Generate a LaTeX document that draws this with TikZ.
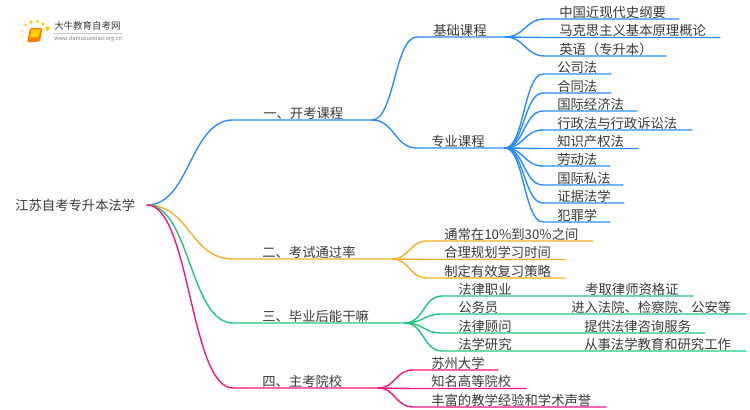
\documentclass[tikz,border=0pt]{standalone}
\usepackage{fontspec}
\setmainfont{Noto Sans CJK SC}
\usetikzlibrary{calc}
\definecolor{cblue}{HTML}{2A8CFF}
\definecolor{corange}{HTML}{F7B026}
\definecolor{cgreen}{HTML}{1FC77E}
\definecolor{cpink}{HTML}{F7147F}
\definecolor{ctext}{HTML}{3A3A3A}
\tikzset{
  x=0.75pt,y=-0.75pt,
  lbl/.style={anchor=west,inner sep=0pt,text=ctext,font=\fontsize{10pt}{12pt}\selectfont},
  link/.style={line width=1.05pt,line cap=round},
  logodot/.style={fill=#1,draw=none},
}
% \leaf{parent}{name}{startx}{endx}{liney}{textx}{text}{colour}
\newcommand{\leaf}[8]{%
  \coordinate (#2s) at (#3,#5);
  \coordinate (#2e) at (#4,#5);
  \node[lbl] (#2) at (#6,#5-7) {#7};
  \draw[link,#8] (#1) let \p1=(#1),\p2=(#2s),\n1={0.5*(\x2-\x1)} in
     .. controls +(\n1,0) and +(-\n1,0) .. (#2s) -- (#2e);
}
\begin{document}
\begin{tikzpicture}
\useasboundingbox (0,0) rectangle (750,410);
% logo
\fill[logodot=yellow!70!orange] (31,22) circle (1.9);
\fill[logodot=yellow!70!orange] (37.5,21.5) circle (1.7);
\fill[logodot=yellow!70!orange] (43,24) circle (1.8);
\fill[logodot=yellow!70!orange] (47.5,28.5) circle (2.3);
\fill[logodot=yellow!50!orange!70] (25.5,25) circle (1.5);
\fill[logodot=yellow!50!orange!50] (22,30.5) circle (1.3);
\fill[logodot=yellow!50!orange!40] (21.5,36.5) circle (1.1);
\fill[logodot=yellow!50!orange!30] (23.5,42.5) circle (1);
\fill[orange,rounded corners=1pt] (30,28) -- (42.5,28) -- (40,41.5) -- (27,42.5) -- cycle;
\fill[yellow!70!orange] (31.5,29.5) -- (40.5,29.5) -- (38.5,37) -- (30,37.5) -- cycle;
\node[anchor=west,inner sep=0pt,text=ctext,font=\fontsize{7.1pt}{8pt}\selectfont] (brand) at (54,26) {大牛教育自考网};
\node[anchor=west,inner sep=0pt,text=gray,font=\fontsize{4.2pt}{5pt}\selectfont] (url) at (54,38.5) {www.daniuxuexiao.org.cn};
\draw[gray!40,line width=0.3pt] (54,33) -- (122,33);
% root
\node[lbl] (root) at (15,205) {江苏自考专升本法学};
\coordinate (r) at (147,205);
% level 1
\leaf{r}{a}{233}{372}{120}{263}{一、开考课程}{cblue}
\leaf{r}{b}{233}{392}{259}{262}{二、考试通过率}{corange}
\leaf{r}{c}{233}{405}{323}{262}{三、毕业后能干嘛}{cgreen}
\leaf{r}{d}{233}{378}{388}{262}{四、主考院校}{cpink}
% level 2
\leaf{ae}{a1}{417}{505}{37}{433}{基础课程}{cblue}
\leaf{ae}{a2}{417}{505}{148}{431}{专业课程}{cblue}
% level 3 base
\leaf{a1e}{a11}{545}{679}{19}{559}{中国近现代史纲要}{cblue}
\leaf{a1e}{a12}{545}{720}{37.5}{559}{马克思主义基本原理概论}{cblue}
\leaf{a1e}{a13}{545}{666}{56}{559}{英语（专升本）}{cblue}
% level 3 major
\leaf{a2e}{a21}{543}{611}{74}{557}{公司法}{cblue}
\leaf{a2e}{a22}{543}{611}{93}{557}{合同法}{cblue}
\leaf{a2e}{a23}{543}{637}{111}{557}{国际经济法}{cblue}
\leaf{a2e}{a24}{543}{692}{130}{557}{行政法与行政诉讼法}{cblue}
\leaf{a2e}{a25}{543}{638}{148.5}{557}{知识产权法}{cblue}
\leaf{a2e}{a26}{543}{610}{166}{557}{劳动法}{cblue}
\leaf{a2e}{a27}{543}{623}{185}{557}{国际私法}{cblue}
\leaf{a2e}{a28}{543}{624}{203}{557}{证据法学}{cblue}
\leaf{a2e}{a29}{543}{610}{222}{557}{犯罪学}{cblue}
% orange
\leaf{be}{b1}{427}{593}{241}{444}{通常在10\%到30\%之间}{corange}
\leaf{be}{b2}{427}{565}{259.5}{444}{合理规划学习时间}{corange}
\leaf{be}{b3}{427}{565}{278}{444}{制定有效复习策略}{corange}
% green
\leaf{ce}{c1}{442}{693}{296}{458}{法律职业}{cgreen}
\leaf{ce}{c2}{442}{746}{314}{458}{公务员}{cgreen}
\leaf{ce}{c3}{442}{705}{333}{458}{法律顾问}{cgreen}
\leaf{ce}{c4}{442}{746}{351}{458}{法学研究}{cgreen}
\node[lbl] (c1t) at (585,289) {考取律师资格证};
\node[lbl] (c2t) at (571,307) {进入法院、检察院、公安等};
\node[lbl] (c3t) at (584,326) {提供法律咨询服务};
\node[lbl] (c4t) at (584,344) {从事法学教育和研究工作};
% pink
\leaf{de}{d1}{413}{498}{370}{431}{苏州大学}{cpink}
\leaf{de}{d2}{413}{526}{388.5}{431}{知名高等院校}{cpink}
\leaf{de}{d3}{413}{606}{407}{431}{丰富的教学经验和学术声誉}{cpink}
\end{tikzpicture}
\end{document}
